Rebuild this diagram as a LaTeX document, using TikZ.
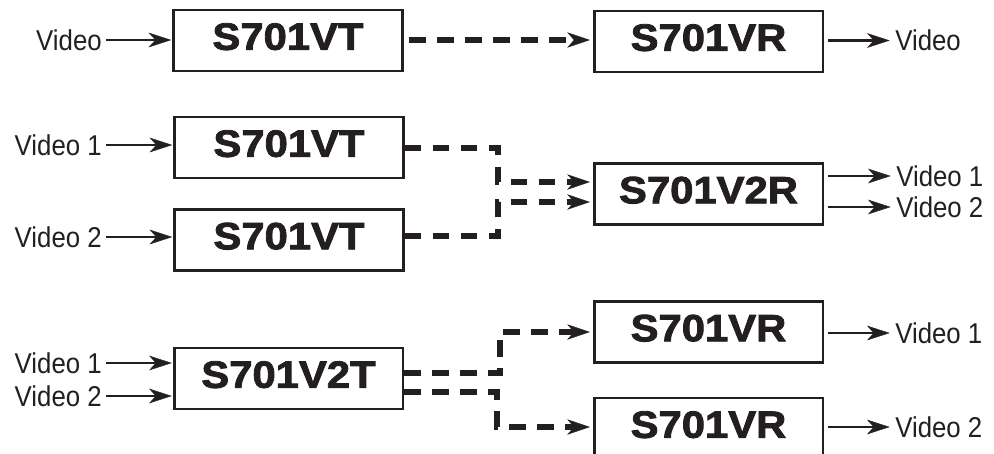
\documentclass[tikz,border=0pt]{standalone}
\usepackage{fontspec}
\setmainfont{Liberation Sans}
\newfontfamily\boxfont[FakeStretch=1.1,FakeBold=2.2]{Liberation Sans Bold}
\newfontfamily\lblfont[FakeStretch=0.9]{Liberation Sans}
\usetikzlibrary{arrows.meta}
\definecolor{ink}{RGB}{35,31,32}
\tikzset{
  unitbox/.style={draw=ink, line width=2pt, inner sep=0pt, minimum width=171.5pt,
    minimum height=45.75pt, text depth=6pt, text=ink,
    font=\boxfont\fontsize{28.5}{32}\selectfont},
  lbl/.style={inner sep=0pt, text=ink, font=\lblfont\fontsize{21.5}{24}\selectfont},
  sig/.style={draw=ink, line width=1.6pt,
    -{Stealth[length=17pt,width=11pt,inset=5pt,line width=0.3pt]},
    shorten <=3pt, shorten >=0.8pt},
  link/.style={draw=ink, line width=4pt, dash pattern=on 12.5pt off 8.5pt, miter limit=4,
    -{Stealth[length=17pt,width=11.5pt,inset=5pt,line width=0.3pt]},
    shorten >=2.2pt}
}
\begin{document}
\begin{tikzpicture}[x=0.75pt,y=-0.75pt]
\useasboundingbox (0,0) rectangle (994,453);
\clip (0,0) rectangle (994,453);
% boxes
\node[unitbox] (vt1) at (288,40.5) {S701VT};
\node[unitbox] (vr1) at (708.5,41.5) {S701VR};
\node[unitbox] (vt2) at (289,147.5) {S701VT};
\node[unitbox] (vt3) at (289,240) {S701VT};
\node[unitbox] (v2r) at (708.5,194) {S701V2R};
\node[unitbox] (v2t) at (288.5,378.5) {S701V2T};
\node[unitbox] (vr2) at (708.5,332) {S701VR};
\node[unitbox] (vr3) at (708.5,428.5) {S701VR};
% input labels
\node[lbl, anchor=east] (i1) at (102,40) {Video};
\node[lbl, anchor=east] (i2) at (102,145) {Video 1};
\node[lbl, anchor=east] (i3) at (102,237) {Video 2};
\node[lbl, anchor=east] (i4) at (102,363) {Video 1};
\node[lbl, anchor=east] (i5) at (102,396) {Video 2};
% output labels
\node[lbl, anchor=west] (o1) at (895,40.5) {Video};
\node[lbl, anchor=west] (o2) at (896,176) {Video 1};
\node[lbl, anchor=west] (o3) at (896,207) {Video 2};
\node[lbl, anchor=west] (o4) at (895,333) {Video 1};
\node[lbl, anchor=west] (o5) at (895,427) {Video 2};
% input arrows
\draw[sig] (i1.east) -- (vt1.west |- i1.east);
\draw[sig] (i2.east) -- (vt2.west |- i2.east);
\draw[sig] (i3.east) -- (vt3.west |- i3.east);
\draw[sig] (i4.east) -- (v2t.west |- i4.east);
\draw[sig] (i5.east) -- (v2t.west |- i5.east);
% output arrows
\draw[sig, shorten >=4pt] (vr1.east |- o1.west) -- (o1.west);
\draw[sig, shorten >=4pt] (v2r.east |- o2.west) -- (o2.west);
\draw[sig, shorten >=4pt] (v2r.east |- o3.west) -- (o3.west);
\draw[sig, shorten >=4pt] (vr2.east |- o4.west) -- (o4.west);
\draw[sig, shorten >=4pt] (vr3.east |- o5.west) -- (o5.west);
% links
\draw[link, dash phase=17pt] (vt1.east |- 0,40) -- (vr1.west |- 0,40);
\draw[link] (vt2.east |- 0,148) -- (498,148) -- (498,182) -- (v2r.west |- 0,182);
\draw[link] (vt3.east |- 0,236) -- (498,236) -- (498,202) -- (v2r.west |- 0,202);
\draw[link] (v2t.east |- 0,373) -- (500,373) -- (500,332) -- (vr2.west |- 0,332);
\draw[link] (v2t.east |- 0,392) -- (497,392) -- (497,427) -- (vr3.west |- 0,427);
\end{tikzpicture}
\end{document}
